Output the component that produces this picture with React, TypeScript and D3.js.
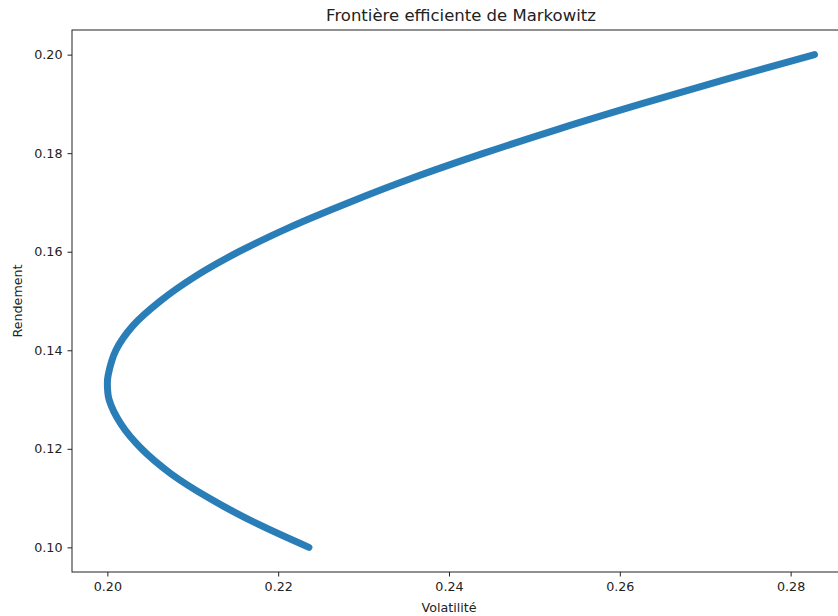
import React, { useEffect, useRef } from 'react';
import * as d3 from 'd3';

// points (rendement -> volatilité)
const rendements = [
    0.100, 0.105, 0.110, 0.115, 0.120, 0.125, 0.130, 0.1333, 0.135, 0.140, 0.145,
    0.150, 0.155, 0.160, 0.165, 0.170, 0.175, 0.180, 0.185, 0.190, 0.195, 0.200,
];
const volatilites = [
    0.2236, 0.2173, 0.2119, 0.2074, 0.2040, 0.2016, 0.2002, 0.2000, 0.2001, 0.2010, 0.2030,
    0.2062, 0.2103, 0.2154, 0.2214, 0.2283, 0.2358, 0.2441, 0.2530, 0.2625, 0.2724, 0.2828,
];
const xTicks = [0.20, 0.22, 0.24, 0.26, 0.28];
const yTicks = [0.10, 0.12, 0.14, 0.16, 0.18, 0.20];

const App = () => {
    const svgRef = useRef<SVGSVGElement>(null);

    useEffect(() => {
        const svg = d3.select(svgRef.current);
        svg.selectAll('*').remove();

        const width = 838;
        const height = 616;
        const margin = { top: 30, right: -12, bottom: 44, left: 72 };
        const font = 'DejaVu Sans, sans-serif';

        const x = d3
            .scaleLinear()
            .domain([0.19586, 0.28695])
            .range([margin.left, width - margin.right]);

        const y = d3
            .scaleLinear()
            .domain([0.095, 0.205])
            .range([height - margin.bottom, margin.top]);

        const data = rendements.map((r, i) => ({ r, v: volatilites[i] }));

        const line = d3
            .line<{ r: number; v: number }>()
            .x(d => x(d.v))
            .y(d => y(d.r))
            .curve(d3.curveCatmullRom);

        svg
            .append('path')
            .datum(data)
            .attr('d', line)
            .attr('fill', 'none')
            .attr('stroke', '#1f77b4')
            .attr('stroke-width', 7)
            .attr('stroke-linecap', 'round')
            .attr('stroke-linejoin', 'round')
            .attr('opacity', 0.95);

        const xAxis = g =>
            g
                .attr('transform', `translate(0,${height - margin.bottom})`)
                .call(d3.axisBottom(x).tickValues(xTicks).tickFormat(d3.format('.2f')).tickSizeOuter(0).tickSize(4.5).tickPadding(5));

        const yAxis = g =>
            g
                .attr('transform', `translate(${margin.left},0)`)
                .call(d3.axisLeft(y).tickValues(yTicks).tickFormat(d3.format('.2f')).tickSizeOuter(0).tickSize(4.5).tickPadding(5));

        [svg.append('g').call(xAxis), svg.append('g').call(yAxis)].forEach(g => {
            g.select('.domain').remove();
            g.selectAll('text').attr('font-family', font).attr('font-size', 12.7).attr('fill', '#222');
            g.selectAll('line').attr('stroke', '#222');
        });

        // axes frame
        svg
            .append('rect')
            .attr('x', margin.left)
            .attr('y', margin.top)
            .attr('width', width - margin.right - margin.left)
            .attr('height', height - margin.bottom - margin.top)
            .attr('fill', 'none')
            .attr('stroke', '#222')
            .attr('stroke-width', 1);

        svg
            .append('text')
            .attr('x', (margin.left + width - margin.right) / 2)
            .attr('y', 21)
            .attr('text-anchor', 'middle')
            .attr('font-family', font)
            .attr('font-size', 16.5)
            .attr('fill', '#222')
            .text('Frontière efficiente de Markowitz');

        svg
            .append('text')
            .attr('x', x(0.24))
            .attr('y', 612)
            .attr('text-anchor', 'middle')
            .attr('font-family', font)
            .attr('font-size', 12.7)
            .attr('fill', '#222')
            .text('Volatilité');

        svg
            .append('text')
            .attr('transform', `translate(22,${(margin.top + height - margin.bottom) / 2}) rotate(-90)`)
            .attr('text-anchor', 'middle')
            .attr('font-family', font)
            .attr('font-size', 12.7)
            .attr('fill', '#222')
            .text('Rendement');
    }, []);

    return (
        <svg
            ref={svgRef}
            width={838}
            height={616}
            style={{ position: 'absolute', left: 0, top: 0, background: '#fff' }}
        ></svg>
    );
};

export default App;
